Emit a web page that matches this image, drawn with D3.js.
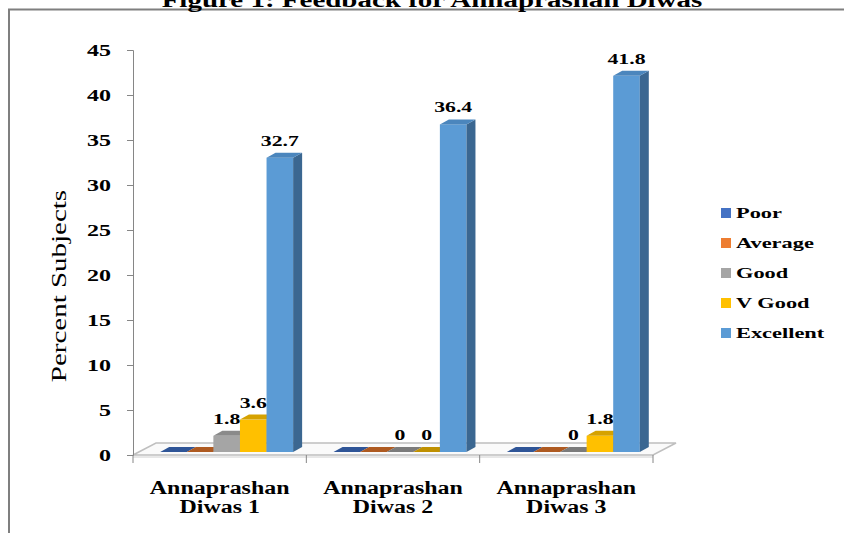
<!DOCTYPE html>
<html>
<head>
<meta charset="utf-8">
<script src="https://cdn.jsdelivr.net/npm/d3@7"></script>
<style>
  body { margin: 0; background: #fff; }
  text { font-family: "Liberation Serif", "Times New Roman", serif; }
</style>
</head>
<body>
<div class="canvas"></div>
<script>
const categories = ['Annaprashan Diwas 1', 'Annaprashan Diwas 2', 'Annaprashan Diwas 3']
const series = ['Poor', 'Average', 'Good', 'V Good', 'Excellent']
const poor = [0, 0, 0]
const average = [0, 0, 0]
const good = [1.8, 0, 0]
const vGood = [3.6, 0, 1.8]
const excellent = [32.7, 36.4, 41.8]
const yTicks = [0, 5, 10, 15, 20, 25, 30, 35, 40, 45]
const labelled = ['Good', 'V Good', 'Excellent']
// which zero bars still carry a "0" label
const zeroLabels = [[], ['Good', 'V Good'], ['Good']]

const values = {Poor: poor, Average: average, Good: good, 'V Good': vGood, Excellent: excellent}
const colors = {
  Poor: {front: '#4472c4', top: '#3a62a8', side: '#2f5597'},
  Average: {front: '#ed7d31', top: '#c8692a', side: '#ae5a21'},
  Good: {front: '#a5a5a5', top: '#8a8a8a', side: '#7b7b7b'},
  'V Good': {front: '#ffc000', top: '#d6a200', side: '#bf9000'},
  Excellent: {front: '#5b9bd5', top: '#4b86bd', side: '#3b6791'}
}

const width = 844
const height = 533
const depth = {dx: 9, dy: -5}
const shift = {x: 7, y: -3}
const floorDepth = {dx: 23, dy: -12}

const svg = d3.select('.canvas')
  .append('svg')
  .attr('width', width)
  .attr('height', height)

// frame and the clipped title above it
svg.append('rect')
  .attr('x', 9).attr('y', 9.5)
  .attr('width', 900).attr('height', 600)
  .attr('fill', 'none')
  .attr('stroke', '#7f7f7f')
  .attr('stroke-width', 2)

const stretched = (sel, x, y, sx) => sel.attr('transform', `translate(${x},${y}) scale(${sx},1)`)

stretched(svg.append('text'), 432, 7, 1.45)
  .attr('text-anchor', 'middle')
  .attr('font-size', 20)
  .attr('font-weight', 'bold')
  .text('Figure 1: Feedback for Annaprashan Diwas')

const x0 = d3.scaleBand()
  .domain(categories)
  .range([133, 653])

const x1 = d3.scaleBand()
  .domain(series)
  .range([0, x0.bandwidth()])
  .paddingOuter(0.76)

const y = d3.scaleLinear()
  .domain([0, 45])
  .range([455, 50])

// floor
const fy = y(0)
svg.append('path')
  .attr('d', `M${x0.range()[0]},${fy} L${x0.range()[0] + floorDepth.dx},${fy + floorDepth.dy} ` +
    `L${x0.range()[1] + floorDepth.dx},${fy + floorDepth.dy} L${x0.range()[1]},${fy} Z`)
  .attr('fill', '#fafafa')
  .attr('stroke', '#bfbfbf')
  .attr('stroke-width', 1.5)
svg.append('line')
  .attr('x1', x0.range()[0]).attr('x2', x0.range()[1])
  .attr('y1', fy + 2).attr('y2', fy + 2)
  .attr('stroke', '#d0d0d0')

// category ticks at band edges
const edges = categories.map(c => x0(c)).concat([x0.range()[1]])
svg.selectAll('.cat-tick')
  .data(edges)
  .enter().append('line')
  .attr('x1', d => d).attr('x2', d => d)
  .attr('y1', fy).attr('y2', fy + 8)
  .attr('stroke', '#868686')

// y axis
const yAxis = svg.append('g')
  .attr('transform', `translate(${x0.range()[0]},0)`)
  .call(d3.axisLeft(y).tickValues(yTicks).tickSize(6).tickPadding(0))
yAxis.selectAll('path, line').attr('stroke', '#868686')
yAxis.selectAll('text')
  .attr('font-family', '"Liberation Serif", serif')
  .attr('font-size', 16)
  .attr('font-weight', 'bold')
  .attr('fill', '#000')
  .attr('x', -22 / 1.5)
  .attr('dy', '0.35em')
  .attr('transform', 'scale(1.5,1)')

stretched(svg.append('text'), 66, 286, 1.38)
  .attr('transform', 'translate(66,286) rotate(-90) scale(1.38,1)')
  .attr('text-anchor', 'middle')
  .attr('font-size', 21)
  .text('Percent Subjects')

// bars
const bars = []
categories.forEach((c, i) => {
  series.forEach(s => {
    bars.push({cat: c, ci: i, s, v: values[s][i]})
  })
})

const barG = svg.selectAll('.bar')
  .data(bars)
  .enter().append('g')

barG.each(function (d) {
  const g = d3.select(this)
  const bx = x0(d.cat) + x1(d.s) + shift.x
  const w = x1.bandwidth()
  const top = y(d.v) + shift.y
  const bottom = y(0) + shift.y
  const col = colors[d.s]
  if (d.v > 0) {
    g.append('rect')
      .attr('x', bx).attr('y', top)
      .attr('width', w).attr('height', bottom - top)
      .attr('fill', col.front)
    g.append('path')
      .attr('d', `M${bx + w},${top} L${bx + w + depth.dx},${top + depth.dy} ` +
        `L${bx + w + depth.dx},${bottom + depth.dy} L${bx + w},${bottom} Z`)
      .attr('fill', col.side)
  }
  g.append('path')
    .attr('d', `M${bx},${top} L${bx + depth.dx},${top + depth.dy} ` +
      `L${bx + w + depth.dx},${top + depth.dy} L${bx + w},${top} Z`)
    .attr('fill', d.v > 0 ? col.top : col.side)
})

// data labels
const labels = bars.filter(d => labelled.includes(d.s) &&
  (d.v > 0 || zeroLabels[d.ci].includes(d.s)))
svg.selectAll('.val')
  .data(labels)
  .enter().append('text')
  .attr('transform', d => `translate(${x0(d.cat) + x1(d.s) + shift.x + x1.bandwidth() / 2},` +
    `${y(d.v) + shift.y - 12}) scale(1.45,1)`)
  .attr('text-anchor', 'middle')
  .attr('font-size', 15)
  .attr('font-weight', 'bold')
  .text(d => d.v)

// category labels
const catText = svg.selectAll('.cat')
  .data(categories)
  .enter().append('text')
  .attr('transform', d => `translate(${x0(d) + x0.bandwidth() / 2},0) scale(1.26,1)`)
  .attr('text-anchor', 'middle')
  .attr('font-size', 19)
  .attr('font-weight', 'bold')
catText.append('tspan')
  .attr('x', 0).attr('y', 494)
  .text(d => d.split(' ')[0])
catText.append('tspan')
  .attr('x', 0).attr('y', 513)
  .text(d => d.split(' ').slice(1).join(' '))

// legend
const legend = svg.selectAll('.legend')
  .data(series)
  .enter().append('g')
  .attr('transform', (d, i) => `translate(721,${213 + i * 30})`)
legend.append('rect')
  .attr('x', 0).attr('y', -5)
  .attr('width', 10).attr('height', 10)
  .attr('fill', d => colors[d].front)
legend.append('text')
  .attr('transform', 'translate(15,5) scale(1.6,1)')
  .attr('font-size', 14)
  .attr('font-weight', 'bold')
  .text(d => d)
</script>
</body>
</html>
